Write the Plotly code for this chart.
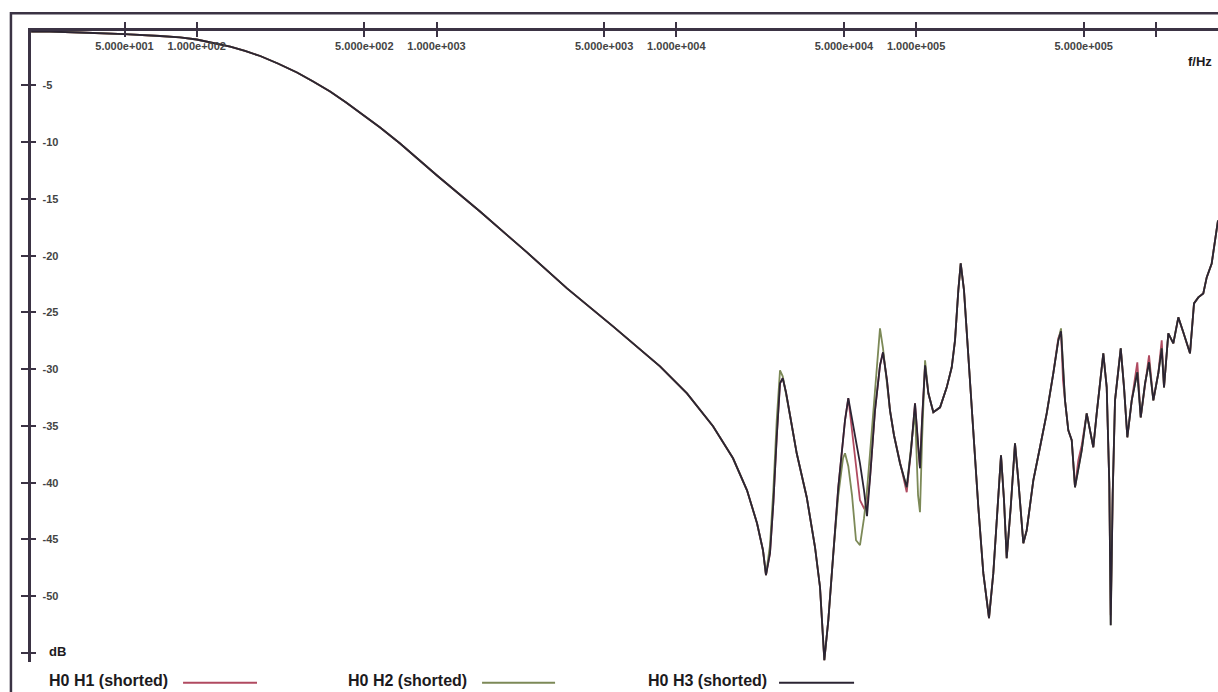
import plotly.graph_objects as go

# values: frequency in Hz, magnitude in dB
# below ~23 kHz the three measurements lie on top of each other
freq_low = [20.4, 24.4, 32.6, 43.5, 50.0, 70.3, 85.2, 100, 119, 138, 159, 184,
            218, 262, 306, 360, 420, 494, 582, 705, 1005, 1519, 2385, 3502,
            5447, 8554, 11080, 14230, 17240, 19720, 21710, 22990]
db_low = [-0.25, -0.25, -0.33, -0.42, -0.47, -0.64, -0.77, -0.95, -1.26, -1.57,
          -1.96, -2.40, -3.06, -3.86, -4.65, -5.53, -6.50, -7.56, -8.70, -10.11,
          -12.93, -16.10, -19.71, -22.88, -26.23, -29.75, -32.13, -35.03, -37.85,
          -40.67, -43.57, -45.95]

freq_high = [23660, 24590, 25390, 26230, 27070, 27790, 28680, 29800, 31780, 34990,
             37890, 39750, 41430, 43050, 45160, 47380, 49570, 50530, 52160, 54050,
             56160, 58350, 60640, 62420, 64240, 67400, 70710, 72780, 75620, 77830,
             80880, 85670, 91400, 95240, 98970, 101900, 103800, 105900, 109000, 112500,
             118000, 125900, 134200, 140800, 145300, 150000, 153500, 158400, 165100, 173200,
             181800, 190700, 201400, 209900, 218100, 226000, 232600, 238700, 248100, 258500,
             266900, 280000, 289300, 308200, 328600, 350500, 373400, 391800, 402100, 409900,
             417800, 431300, 445700, 459900, 474800, 490600, 514600, 531200, 548300, 566500,
             603500, 623600, 639300, 648100, 660600, 675400, 713500, 736400, 760100, 792900,
             836700, 864600, 901000, 936300, 975700, 1023500, 1057600, 1081200, 1126700, 1182300,
             1240400, 1301300, 1387500, 1442000, 1502700, 1576400, 1628800, 1709000, 1763800, 1815300]

db_h1_high = [-48.15, -46.21, -41.81, -36.00, -31.24, -30.80, -32.04, -34.06, -37.41, -41.28,
              -45.69, -49.21, -55.64, -52.11, -46.21, -40.40, -36.26, -34.50, -32.56, -35.38,
              -38.90, -41.55, -42.25, -41.99, -39.61, -33.62, -29.66, -28.51, -30.98, -33.62,
              -35.82, -38.29, -40.84, -37.15, -33.01, -36.70, -38.73, -34.50, -29.66, -32.12,
              -33.80, -33.36, -31.60, -29.83, -27.46, -23.05, -20.68, -23.05, -28.95, -34.77,
              -42.16, -47.97, -51.94, -47.97, -42.16, -37.58, -41.55, -46.65, -42.16, -36.53,
              -39.79, -45.33, -44.19, -39.79, -36.88, -33.89, -30.36, -27.28, -26.66, -30.98,
              -32.74, -35.38, -36.26, -40.40, -38.02, -36.70, -33.89, -35.38, -36.88, -33.89,
              -28.60, -31.60, -40.05, -51.68, -40.93, -32.74, -28.16, -31.60, -36.00, -32.74,
              -29.39, -34.24, -31.24, -28.78, -32.74, -30.36, -27.46, -31.60, -26.84, -27.72,
              -25.43, -26.75, -28.60, -24.20, -23.67, -23.32, -21.91, -20.68, -18.91, -16.89]

db_h2_high = [-48.15, -45.51, -40.67, -34.50, -30.10, -30.63, -32.04, -34.06, -37.41, -41.28,
              -45.69, -49.21, -55.64, -52.11, -46.21, -41.11, -37.85, -37.41, -38.55, -41.11,
              -45.07, -45.51, -43.13, -40.67, -37.41, -31.68, -26.40, -28.16, -31.42, -33.62,
              -35.82, -38.29, -40.40, -37.15, -33.62, -41.11, -42.60, -36.26, -29.22, -32.12,
              -33.80, -33.36, -31.60, -29.83, -27.46, -23.05, -20.68, -23.05, -28.95, -34.77,
              -42.16, -47.97, -51.94, -47.97, -42.16, -37.58, -41.55, -46.65, -42.16, -36.53,
              -39.79, -45.33, -44.19, -39.79, -36.88, -33.89, -30.36, -27.46, -26.40, -29.66,
              -32.74, -35.38, -36.26, -40.40, -38.64, -37.15, -33.89, -35.38, -36.88, -33.89,
              -28.60, -31.60, -40.05, -52.55, -40.93, -32.74, -28.16, -31.60, -36.00, -32.74,
              -30.27, -34.24, -31.24, -29.39, -32.74, -30.36, -28.16, -31.60, -26.84, -27.72,
              -25.43, -26.75, -28.60, -24.20, -23.67, -23.32, -21.91, -20.68, -18.91, -16.89]

db_h3_high = [-48.15, -46.21, -41.81, -36.00, -31.24, -30.80, -32.04, -34.06, -37.41, -41.28,
              -45.69, -49.21, -55.64, -52.11, -46.21, -40.40, -36.26, -34.50, -32.56, -34.33,
              -36.26, -38.29, -40.67, -42.95, -39.61, -33.62, -29.66, -28.51, -30.98, -33.62,
              -35.82, -38.29, -40.40, -37.15, -33.01, -36.26, -38.73, -34.50, -29.66, -32.12,
              -33.80, -33.36, -31.60, -29.83, -27.46, -23.05, -20.68, -23.05, -28.95, -34.77,
              -42.16, -47.97, -51.94, -47.97, -42.16, -37.58, -41.55, -46.65, -42.16, -36.53,
              -39.79, -45.33, -44.19, -39.79, -36.88, -33.89, -30.36, -27.46, -26.66, -29.66,
              -32.74, -35.38, -36.26, -40.40, -38.64, -37.15, -33.89, -35.38, -36.88, -33.89,
              -28.60, -31.60, -40.05, -52.55, -40.93, -32.74, -28.16, -31.60, -36.00, -32.74,
              -30.27, -34.24, -31.24, -29.39, -32.74, -30.36, -28.16, -31.60, -26.84, -27.72,
              -25.43, -26.75, -28.60, -24.20, -23.67, -23.32, -21.91, -20.68, -18.91, -16.89]

series_names = ['H0 H1 (shorted)', 'H0 H2 (shorted)', 'H0 H3 (shorted)']
series_high = [db_h1_high, db_h2_high, db_h3_high]
series_colors = ['#b04a60', '#7c8957', '#2b2433']

freq_ticks = [50, 100, 500, 1000, 5000, 10000, 50000, 100000, 500000, 1000000]
freq_labels = ['5.000e+001', '1.000e+002', '5.000e+002', '1.000e+003', '5.000e+003',
               '1.000e+004', '5.000e+004', '1.000e+005', '5.000e+005', '']
db_ticks = [-5, -10, -15, -20, -25, -30, -35, -40, -45, -50, -55]
db_labels = ['-5', '-10', '-15', '-20', '-25', '-30', '-35', '-40', '-45', '-50', '']

AXIS = '#3b3344'
FONT = 'Arial'

fig = go.Figure()

for name, high, color in zip(series_names, series_high, series_colors):
    fig.add_trace(go.Scatter(x=freq_low + freq_high, y=db_low + high,
                             mode='lines', name=name,
                             line=dict(color=color, width=1.8),
                             showlegend=False))

# empty trace so the overlay axes (outer half of the crossing ticks) get drawn
fig.add_trace(go.Scatter(x=[], y=[], xaxis='x2', yaxis='y2', showlegend=False,
                         hoverinfo='skip'))

x_range = [1.309, 6.259]
y_range = [-55.8, -0.2]

fig.update_layout(
    width=1218, height=692,
    margin=dict(l=31, r=0, t=31, b=30),
    paper_bgcolor='white', plot_bgcolor='white',
    font=dict(family=FONT, color='#1c1a20'),
    showlegend=False,
    xaxis=dict(type='log', range=x_range, side='top', anchor='y',
               showline=True, linecolor=AXIS, linewidth=2.5,
               showgrid=False, zeroline=False,
               ticks='inside', ticklen=6, tickwidth=1.5, tickcolor=AXIS,
               tickvals=freq_ticks, ticktext=['<b>%s</b>' % t if t else '' for t in freq_labels],
               ticklabelposition='inside', ticklabeloverflow='allow',
               ticklabelstandoff=5,
               tickfont=dict(size=11, family=FONT)),
    xaxis2=dict(type='log', range=x_range, side='top', anchor='y', overlaying='x',
                showline=False, showgrid=False, zeroline=False,
                ticks='outside', ticklen=8, tickwidth=1.5, tickcolor=AXIS,
                tickvals=freq_ticks, showticklabels=False),
    yaxis=dict(range=y_range, anchor='x', side='left',
               showline=True, linecolor=AXIS, linewidth=2.5,
               showgrid=False, zeroline=False,
               ticks='inside', ticklen=5, tickwidth=1.5, tickcolor=AXIS,
               tickvals=db_ticks, ticktext=['<b>%s</b>' % t if t else '' for t in db_labels],
               ticklabelposition='inside', ticklabeloverflow='allow',
               ticklabelstandoff=6,
               tickfont=dict(size=11, family=FONT)),
    yaxis2=dict(range=y_range, anchor='x', side='left', overlaying='y',
                showline=False, showgrid=False, zeroline=False,
                ticks='outside', ticklen=9, tickwidth=1.5, tickcolor=AXIS,
                tickvals=db_ticks, showticklabels=False),
)

# outer frame of the instrument window
fig.add_shape(type='rect', xref='paper', yref='paper',
              x0=-0.0169, x1=1.2, y0=-0.3, y1=1.028,
              line=dict(color=AXIS, width=2.5), layer='below')

# axis unit labels
fig.add_annotation(text='<b>f/Hz</b>', xref='paper', yref='paper', x=0.985, y=0.951,
                   xanchor='center', yanchor='middle',
                   showarrow=False, font=dict(size=13, family=FONT))
fig.add_annotation(text='<b>dB</b>', xref='paper', yref='paper', x=0.0135, y=0.0174,
                   xanchor='left', yanchor='middle',
                   showarrow=False, font=dict(size=13, family=FONT))

# legend row under the plot: name first, line sample after it
legend_text_x = [0.0135, 0.2654, 0.5181]
legend_line_x = [(0.1281, 0.1904), (0.3800, 0.4415), (0.6302, 0.6934)]
for name, color, tx, (lx0, lx1) in zip(series_names, series_colors, legend_text_x, legend_line_x):
    fig.add_annotation(text='<b>%s</b>' % name, xref='paper', yref='paper',
                       x=tx, y=-0.030, xanchor='left', yanchor='middle', showarrow=False,
                       font=dict(size=16, family=FONT))
    fig.add_shape(type='line', xref='paper', yref='paper',
                  x0=lx0, x1=lx1, y0=-0.033, y1=-0.033,
                  line=dict(color=color, width=2))

# drop the default 8px body margin so the figure fills the window exactly
fig.write_html("out.html", config={'displayModeBar': False},
               post_script="document.body.style.margin = '0px';")
